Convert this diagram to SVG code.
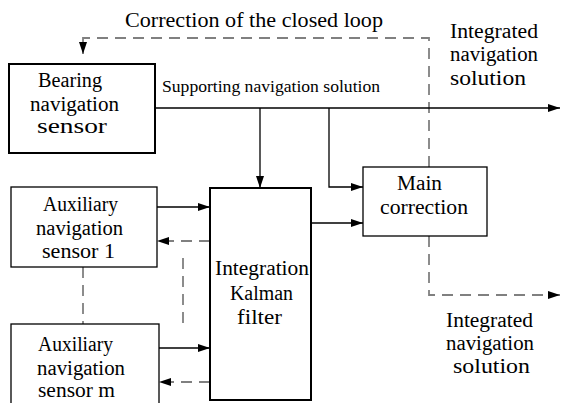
<svg xmlns="http://www.w3.org/2000/svg" width="562" height="403" viewBox="0 0 562 403">
<style>
.lbl{font-family:'Liberation Serif',serif;font-size:20px;fill:#000}
.small{font-family:'Liberation Serif',serif;font-size:16px;fill:#000}
.box{fill:#fff;stroke:#000;stroke-width:1.3}
.thick{stroke-width:2}
.ln{fill:none;stroke:#000;stroke-width:1.3}
.dash{fill:none;stroke:#808080;stroke-width:1.8;stroke-dasharray:11,7}
</style>
<defs>
<marker id="ah" markerWidth="12" markerHeight="8" refX="12" refY="4" orient="auto" markerUnits="userSpaceOnUse">
<path d="M0,0 L12,4 L0,8 Z" fill="#000"/>
</marker>
</defs>
<rect width="562" height="403" fill="#fff"/>
<g id="connectors">
<path class="dash" d="M429,167 V38 H83 V54" marker-end="url(#ah)"/>
<path class="ln" d="M155,108 H560" marker-end="url(#ah)"/>
<path class="ln" d="M260,108 V188" marker-end="url(#ah)"/>
<path class="ln" d="M329,108 V187 H363" marker-end="url(#ah)"/>
<path class="ln" d="M311,223 H363" marker-end="url(#ah)"/>
<path class="dash" d="M429,236 V295 H560" marker-end="url(#ah)"/>
<path class="ln" d="M157,207 H210" marker-end="url(#ah)"/>
<path class="dash" d="M210,241 H157" marker-end="url(#ah)"/>
<path class="ln" d="M159,348 H210" marker-end="url(#ah)"/>
<path class="dash" d="M210,382 H159" marker-end="url(#ah)"/>
<path class="dash" d="M83,267 V324"/>
<path class="dash" d="M183,258 V330"/>
</g>
<g font-family="Liberation Serif, serif" lengthAdjust="spacingAndGlyphs">
<g id="label-loop"><text class="lbl" x="125" y="27" textLength="258" lengthAdjust="spacingAndGlyphs">Correction of the closed loop</text></g>
<g id="label-supporting"><text class="small" x="162" y="92" textLength="218" lengthAdjust="spacingAndGlyphs">Supporting navigation solution</text></g>
<g id="label-integrated-top">
<text class="lbl" x="450" y="38" textLength="88" lengthAdjust="spacingAndGlyphs">Integrated</text>
<text class="lbl" x="450" y="61" textLength="88" lengthAdjust="spacingAndGlyphs">navigation</text>
<text class="lbl" x="450" y="85" textLength="76" lengthAdjust="spacingAndGlyphs">solution</text>
</g>
<g id="label-integrated-bottom">
<text class="lbl" x="446" y="327" textLength="87" lengthAdjust="spacingAndGlyphs">Integrated</text>
<text class="lbl" x="446" y="350" textLength="88" lengthAdjust="spacingAndGlyphs">navigation</text>
<text class="lbl" x="453" y="373" textLength="77" lengthAdjust="spacingAndGlyphs">solution</text>
</g>
<g id="bearing">
<rect class="box thick" x="9" y="64" width="146" height="89"/>
<text class="lbl" x="38" y="87" textLength="64" lengthAdjust="spacingAndGlyphs">Bearing</text>
<text class="lbl" x="30" y="111" textLength="89" lengthAdjust="spacingAndGlyphs">navigation</text>
<text class="lbl" x="37" y="133" textLength="70" lengthAdjust="spacingAndGlyphs">sensor</text>
</g>
<g id="aux1">
<rect class="box" x="11" y="187" width="146" height="80"/>
<text class="lbl" x="43" y="211" textLength="75" lengthAdjust="spacingAndGlyphs">Auxiliary</text>
<text class="lbl" x="36" y="235" textLength="87" lengthAdjust="spacingAndGlyphs">navigation</text>
<text class="lbl" x="42" y="258" textLength="73" lengthAdjust="spacingAndGlyphs">sensor 1</text>
</g>
<g id="auxm">
<rect class="box" x="11" y="324" width="148" height="90"/>
<text class="lbl" x="38" y="351" textLength="75" lengthAdjust="spacingAndGlyphs">Auxiliary</text>
<text class="lbl" x="37" y="375" textLength="88" lengthAdjust="spacingAndGlyphs">navigation</text>
<text class="lbl" x="38" y="397" textLength="77" lengthAdjust="spacingAndGlyphs">sensor m</text>
</g>
<g id="kalman">
<rect class="box thick" x="210" y="188" width="101" height="212"/>
<text class="lbl" x="215" y="275" textLength="94" lengthAdjust="spacingAndGlyphs">Integration</text>
<text class="lbl" x="230" y="300" textLength="63" lengthAdjust="spacingAndGlyphs">Kalman</text>
<text class="lbl" x="237" y="324" textLength="45" lengthAdjust="spacingAndGlyphs">filter</text>
</g>
<g id="main">
<rect class="box" x="363" y="167" width="124" height="69"/>
<text class="lbl" x="397" y="190" textLength="45" lengthAdjust="spacingAndGlyphs">Main</text>
<text class="lbl" x="380" y="214" textLength="88" lengthAdjust="spacingAndGlyphs">correction</text>
</g>
</g>
</svg>
